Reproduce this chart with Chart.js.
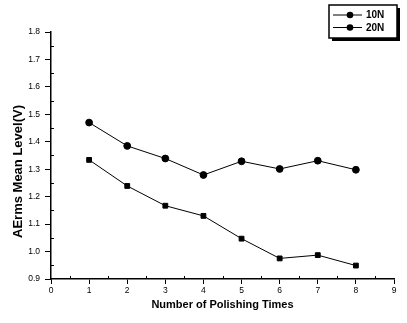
<!DOCTYPE html>
<html><head><meta charset="utf-8">
<script src="https://cdn.jsdelivr.net/npm/chart.js@4/dist/chart.umd.min.js"></script>
<style>html,body{margin:0;padding:0;background:#fff}#wrap{width:407px;height:323px}</style>
</head><body><div id="wrap"><canvas id="c" width="407" height="323"></canvas></div>
<script>
const polishingTimes = [1, 2, 3, 4, 5, 6, 7, 8];
const series10N = [1.334, 1.239, 1.167, 1.130, 1.047, 0.975, 0.987, 0.949];
const series20N = [1.470, 1.385, 1.339, 1.279, 1.329, 1.301, 1.331, 1.298];
const seriesNames = ['10N', '20N'];
const yTickLabels = ['0.9','1.0','1.1','1.2','1.3','1.4','1.5','1.6','1.7','1.8'];
const xTickLabels = ['0','1','2','3','4','5','6','7','8','9'];
const xTitle = 'Number of Polishing Times';
const yTitle = 'AErms Mean Level(V)';

const FONT = "'Liberation Sans', Arial, sans-serif";

const minorTicks = {
  id: 'minorTicks',
  afterDraw(chart) {
    const ctx = chart.ctx, x = chart.scales.x, y = chart.scales.y;
    ctx.save();
    ctx.strokeStyle = '#000'; ctx.lineWidth = 1;
    ctx.beginPath();
    for (let v = 0.95; v < 1.8; v += 0.1) {
      const py = Math.round(y.getPixelForValue(v)) + 0.5;
      ctx.moveTo(x.left, py); ctx.lineTo(x.left + 3, py);
    }
    for (let v = 0.5; v < 9; v += 1) {
      const px = Math.round(x.getPixelForValue(v)) + 0.5;
      ctx.moveTo(px, y.bottom); ctx.lineTo(px, y.bottom - 3);
    }
    ctx.stroke();
    ctx.restore();
  }
};

const axisTitles = {
  id: 'axisTitles',
  afterDraw(chart) {
    const ctx = chart.ctx, x = chart.scales.x, y = chart.scales.y;
    ctx.save();
    ctx.fillStyle = '#000';
    ctx.textAlign = 'center'; ctx.textBaseline = 'middle';
    ctx.font = "bold 11px " + FONT;
    ctx.fillText(xTitle, (x.left + x.right) / 2, y.bottom + 26);
    ctx.translate(18, (y.top + y.bottom) / 2 + 16);
    ctx.rotate(-Math.PI / 2);
    ctx.font = "bold 13px " + FONT;
    ctx.fillText(yTitle, 0, 0);
    ctx.restore();
  }
};

const boxLegend = {
  id: 'boxLegend',
  afterDraw(chart) {
    const ctx = chart.ctx;
    const bx = 329, by = 5, bw = 68, bh = 33;
    ctx.save();
    ctx.fillStyle = '#000';
    ctx.fillRect(bx + 3, by + 3, bw, bh);
    ctx.fillStyle = '#fff';
    ctx.fillRect(bx, by, bw, bh);
    ctx.strokeStyle = '#000'; ctx.lineWidth = 1.5;
    ctx.strokeRect(bx, by, bw, bh);
    chart.data.datasets.forEach((ds, i) => {
      const ry = by + 10 + i * 12.5;
      ctx.strokeStyle = '#000'; ctx.lineWidth = 1;
      ctx.beginPath(); ctx.moveTo(bx + 4, ry); ctx.lineTo(bx + 33, ry); ctx.stroke();
      ctx.fillStyle = '#000';
      ctx.beginPath(); ctx.arc(bx + 21, ry, 3.3, 0, Math.PI * 2); ctx.fill();
      ctx.font = "bold 10px " + FONT;
      ctx.textBaseline = 'middle'; ctx.textAlign = 'left';
      ctx.fillText(ds.label, bx + 37, ry + 0.5);
    });
    ctx.restore();
  }
};

new Chart(document.getElementById('c'), {
  type: 'line',
  data: {
    datasets: [
      { label: seriesNames[0], data: polishingTimes.map((t, i) => ({x: t, y: series10N[i]})),
        borderColor: '#000', borderWidth: 1, pointStyle: 'rect', pointRadius: 3.4,
        pointBackgroundColor: '#000', pointBorderColor: '#000', tension: 0 },
      { label: seriesNames[1], data: polishingTimes.map((t, i) => ({x: t, y: series20N[i]})),
        borderColor: '#000', borderWidth: 1, pointStyle: 'circle', pointRadius: 3.4,
        pointBackgroundColor: '#000', pointBorderColor: '#000', tension: 0 }
    ]
  },
  options: {
    responsive: false, animation: false,
    layout: { padding: { left: 0, top: 32, right: 13, bottom: 0 } },
    plugins: { legend: { display: false }, tooltip: { enabled: false } },
    scales: {
      x: {
        type: 'linear', min: 0, max: 9,
        afterBuildTicks(s) { s.ticks = xTickLabels.map(v => ({ value: Number(v) })); },
        afterFit(s) { s.height = 323 - 279; },
        ticks: { color: '#000', font: { family: FONT, size: 8.5 }, padding: 2,
                 callback: (v, i) => xTickLabels[i] },
        grid: { drawOnChartArea: false, color: '#000', tickLength: 5, tickColor: '#000' },
        border: { color: '#000', width: 1.5 },
        title: { display: false }
      },
      y: {
        type: 'linear', min: 0.9, max: 1.8,
        afterBuildTicks(s) { s.ticks = yTickLabels.map(v => ({ value: Number(v) })); },
        afterFit(s) { s.width = 51; },
        ticks: { color: '#000', font: { family: FONT, size: 8.5 }, padding: 5,
                 callback: (v, i) => yTickLabels[i] },
        grid: { drawOnChartArea: false, color: '#000', tickLength: 6, tickColor: '#000' },
        border: { color: '#000', width: 1.5 },
        title: { display: false }
      }
    }
  },
  plugins: [minorTicks, axisTitles, boxLegend]
});
</script>
</body></html>
